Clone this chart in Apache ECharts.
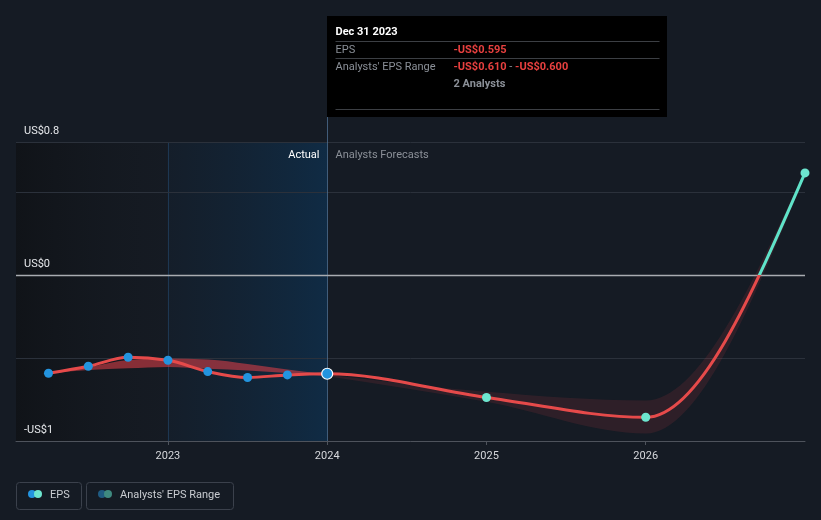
<!DOCTYPE html>
<html><head><meta charset="utf-8">
<script src="https://cdn.jsdelivr.net/npm/echarts@6/dist/echarts.min.js"></script>
<style>html,body{margin:0;padding:0;background:#151b24;}#c{width:821px;height:520px;}</style>
</head><body><div id="c"></div>
<script>
// ---- data (decimal years; EPS in US$) ----
const actualYears = [2022.25, 2022.5, 2022.75, 2023.0, 2023.25, 2023.5, 2023.75, 2024.0];
const actualEps = [-0.592, -0.550, -0.496, -0.514, -0.582, -0.618, -0.602, -0.595];
const forecastYears = [2025.0, 2026.0, 2027.0];
const forecastEps = [-0.738, -0.857, 0.614];
const pastRangeYears = [2022.25, 2022.5, 2022.75, 2023.0, 2023.25, 2023.5, 2023.75, 2024.0];
const pastRangeHigh = [-0.592, -0.556, -0.512, -0.504, -0.509, -0.536, -0.570, -0.600];
const pastRangeLow = [-0.592, -0.572, -0.562, -0.554, -0.565, -0.575, -0.590, -0.610];
const forecastRangeYears = [2024.0, 2025.0, 2026.0, 2027.0];
const forecastRangeHigh = [-0.600, -0.704, -0.756, 0.630];
const forecastRangeLow = [-0.610, -0.764, -0.955, 0.600];
const xTickYears = [2023, 2024, 2025, 2026];
const yLabels = {'0.8': 'US$0.8', '0': 'US$0', '-1': '-US$1'};
const xMin = 2022.046, xMax = 2027, yMin = -1, yMax = 0.8;
const highlightStart = 2023, highlightEnd = 2024;

const RED = '#e64a4a', TEAL = '#5fe3c9', BLUE = '#2394df', PTEAL = '#6de6cf';
const FONT = 'Roboto, "Noto Sans", sans-serif';
const FS = 11;

// monotone-x cubic (d3 style) segments on pixel points
function monoSegs(p) {
  const n = p.length, t = new Array(n).fill(0);
  for (let i = 1; i < n - 1; i++) {
    const h0 = p[i][0] - p[i-1][0], h1 = p[i+1][0] - p[i][0];
    const s0 = (p[i][1] - p[i-1][1]) / h0, s1 = (p[i+1][1] - p[i][1]) / h1;
    const q = (s0 * h1 + s1 * h0) / (h0 + h1);
    t[i] = (Math.sign(s0) + Math.sign(s1)) * Math.min(Math.abs(s0), Math.abs(s1), 0.5 * Math.abs(q)) || 0;
  }
  if (n === 2) { t[0] = t[1] = (p[1][1]-p[0][1])/(p[1][0]-p[0][0]); }
  else {
    const h = p[1][0]-p[0][0]; t[0] = (3*(p[1][1]-p[0][1])/h - t[1]) / 2;
    const hn = p[n-1][0]-p[n-2][0]; t[n-1] = (3*(p[n-1][1]-p[n-2][1])/hn - t[n-2]) / 2;
  }
  const segs = [];
  for (let i = 0; i < n - 1; i++) {
    const dx = (p[i+1][0] - p[i][0]) / 3;
    segs.push({a: p[i], c1: [p[i][0]+dx, p[i][1]+dx*t[i]], c2: [p[i+1][0]-dx, p[i+1][1]-dx*t[i+1]], b: p[i+1]});
  }
  return segs;
}
const f2 = v => v.toFixed(2);
function linePath(p) {
  let d = 'M' + f2(p[0][0]) + ' ' + f2(p[0][1]);
  monoSegs(p).forEach(s => { d += 'C' + [s.c1, s.c2, s.b].map(q => f2(q[0]) + ' ' + f2(q[1])).join(' '); });
  return d;
}
function bandPath(up, lo) {
  let d = linePath(up);
  const segs = monoSegs(lo);
  const last = lo[lo.length-1];
  d += 'L' + f2(last[0]) + ' ' + f2(last[1]);
  for (let i = segs.length - 1; i >= 0; i--) {
    const s = segs[i];
    d += 'C' + [s.c2, s.c1, s.a].map(q => f2(q[0]) + ' ' + f2(q[1])).join(' ');
  }
  return d + 'Z';
}

const chart = echarts.init(document.getElementById('c'));
const option = {
  backgroundColor: '#151b24',
  animation: false,
  grid: {left: 16, right: 16, top: 142, bottom: 79},
  xAxis: {
    type: 'value', min: xMin, max: xMax,
    splitLine: {show: false},
    axisLine: {onZero: false, lineStyle: {color: '#4e535c', width: 1}},
    axisTick: {show: true, customValues: xTickYears, length: 4, lineStyle: {color: '#4e535c'}},
    axisLabel: {customValues: xTickYears, formatter: v => String(Math.round(v)), color: '#d6d8dc', fontSize: FS, fontFamily: FONT, margin: 10}
  },
  yAxis: {
    type: 'value', min: yMin, max: yMax, interval: 0.5,
    axisLine: {show: false}, axisTick: {show: false},
    splitLine: {lineStyle: {color: '#2b313b', width: 1}},
    axisLabel: {
      inside: true, margin: 8, verticalAlign: 'bottom', padding: [0, 0, 5, 0],
      color: '#e6e8eb', fontSize: FS, fontFamily: FONT,
      formatter: v => { const k = String(Math.round(v * 10) / 10); return yLabels[k] || ''; }
    }
  },
  series: [
    { // background shading regions
      type: 'custom', silent: true, z: -1, data: [[xMin, 0]],
      renderItem(params, api) {
        const cs = params.coordSys;
        const xa = api.coord([highlightStart, 0])[0], xb = api.coord([highlightEnd, 0])[0];
        return {type: 'group', children: [
          {type: 'rect', shape: {x: cs.x, y: cs.y, width: xa - cs.x, height: cs.height},
           style: {fill: new echarts.graphic.LinearGradient(0, 0, 1, 0, [{offset: 0, color: 'rgba(14,16,19,0.7)'}, {offset: 1, color: 'rgba(22,26,33,0.3)'}])}},
          {type: 'rect', shape: {x: xa, y: cs.y, width: xb - xa, height: cs.height},
           style: {fill: new echarts.graphic.LinearGradient(0, 0, 1, 0, [{offset: 0, color: 'rgba(20,32,46,0.6)'}, {offset: 1, color: 'rgba(15,45,72,0.9)'}])}},
          {type: 'line', shape: {x1: xa + 0.5, y1: cs.y, x2: xa + 0.5, y2: cs.y + cs.height}, style: {stroke: 'rgba(40,80,120,0.55)', lineWidth: 1}}
        ]};
      }
    },
    { // analysts' EPS ranges + zero line
      type: 'custom', name: "Analysts' EPS Range", silent: true, data: [[xMin, 0]],
      renderItem(params, api) {
        const cs = params.coordSys;
        const zy = Math.round(api.coord([xMin, 0])[1]) + 0.5;
        const pu = pastRangeYears.map((x, i) => api.coord([x, pastRangeHigh[i]]));
        const pl = pastRangeYears.map((x, i) => api.coord([x, pastRangeLow[i]]));
        const fu = forecastRangeYears.map((x, i) => api.coord([x, forecastRangeHigh[i]]));
        const fl = forecastRangeYears.map((x, i) => api.coord([x, forecastRangeLow[i]]));
        return {type: 'group', children: [
          {type: 'line', shape: {x1: cs.x, y1: zy, x2: cs.x + cs.width, y2: zy}, style: {stroke: '#a9acb1', lineWidth: 1.6}},
          {type: 'path', shape: {pathData: bandPath(pu, pl)}, style: {fill: 'rgba(230,64,72,0.55)'}},
          {type: 'path', shape: {pathData: bandPath(fu, fl)}, style: {fill: 'rgba(230,64,72,0.12)'}}
        ]};
      }
    },
    { // EPS line (red below zero, teal above)
      type: 'custom', name: 'EPS line', silent: true, data: [[xMin, 0]],
      renderItem(params, api) {
        const cs = params.coordSys;
        const xs = actualYears.concat(forecastYears), ys = actualEps.concat(forecastEps);
        const pts = xs.map((x, i) => api.coord([x, ys[i]]));
        const zy = api.coord([xMin, 0])[1];
        const f = (zy - cs.y) / cs.height;
        const grad = new echarts.graphic.LinearGradient(0, cs.y, 0, cs.y + cs.height, [
          {offset: 0, color: TEAL}, {offset: f, color: TEAL}, {offset: f, color: RED}, {offset: 1, color: RED}], true);
        return {type: 'path', shape: {pathData: linePath(pts)}, style: {fill: 'none', stroke: grad, lineWidth: 3, lineJoin: 'round', lineCap: 'round'}};
      }
    },
    {
      type: 'scatter', name: 'EPS', symbolSize: 9, clip: true, silent: true,
      itemStyle: {color: BLUE, opacity: 1},
      data: actualYears.map((x, i) => i === actualYears.length - 1
        ? {value: [x, actualEps[i]], symbolSize: 11, itemStyle: {color: BLUE, opacity: 1, borderColor: '#ffffff', borderWidth: 1.2}}
        : [x, actualEps[i]])
    },
    {
      type: 'scatter', name: 'EPS forecast', symbolSize: 9, clip: true, silent: true,
      itemStyle: {color: PTEAL, opacity: 1},
      data: forecastYears.map((x, i) => [x, forecastEps[i]])
    }
  ]
};
chart.setOption(option);

const cx = Math.round(chart.convertToPixel({xAxisIndex: 0}, highlightEnd)) + 0.5;
const bottomY = Math.round(chart.convertToPixel({yAxisIndex: 0}, yMin));
const topPlot = Math.round(chart.convertToPixel({yAxisIndex: 0}, yMax));
const tx = (text, x, y, fill, extra) => ({type: 'text', x, y, silent: true,
  style: Object.assign({text, fill, fontSize: FS, fontFamily: FONT, verticalAlign: 'middle', align: 'left'}, extra || {})});
const hl = (y) => ({type: 'line', silent: true, shape: {x1: cx + 8, y1: y, x2: cx + 332, y2: y}, style: {stroke: '#3c3f44', lineWidth: 1}});

chart.setOption({graphic: [
  {type: 'line', silent: true, shape: {x1: cx, y1: 16, x2: cx, y2: bottomY}, style: {stroke: 'rgba(80,115,150,0.75)', lineWidth: 1}},
  tx('Actual', cx - 8, topPlot + 13, '#ffffff', {align: 'right'}),
  tx('Analysts Forecasts', cx + 8, topPlot + 13, '#8b9098'),
  {type: 'rect', silent: true, shape: {x: cx - 0.5, y: 16, width: 340, height: 101}, style: {fill: '#000000'}},
  tx('Dec 31 2023', cx + 8, 32, '#ffffff', {fontWeight: 'bold'}),
  hl(41.5), hl(58.5), hl(109.5),
  tx('EPS', cx + 8, 50, '#8b9098'),
  tx('-US$0.595', cx + 126, 50, '#e8403f', {fontWeight: 'bold'}),
  tx("Analysts' EPS Range", cx + 8, 67, '#8b9098'),
  {type: 'text', x: cx + 126, y: 67, silent: true, style: {
    text: '{r|-US$0.610}{g| - }{r|-US$0.600}', verticalAlign: 'middle', fontSize: FS, fontFamily: FONT,
    rich: {r: {fill: '#e8403f', fontWeight: 'bold', fontSize: FS, fontFamily: FONT}, g: {fill: '#8b9098', fontSize: FS, fontFamily: FONT}}}},
  tx('2 Analysts', cx + 126, 84, '#8b9098', {fontWeight: 'bold'}),
  // legend
  {type: 'rect', silent: true, shape: {x: 16.5, y: 482.5, width: 65, height: 27, r: 3}, style: {fill: 'none', stroke: '#3b414c', lineWidth: 1}},
  {type: 'circle', silent: true, shape: {cx: 32, cy: 494, r: 4}, style: {fill: BLUE}},
  {type: 'circle', silent: true, shape: {cx: 38, cy: 494, r: 4}, style: {fill: PTEAL}},
  tx('EPS', 50, 495, '#c9ccd1'),
  {type: 'rect', silent: true, shape: {x: 86.5, y: 482.5, width: 147, height: 27, r: 3}, style: {fill: 'none', stroke: '#3b414c', lineWidth: 1}},
  {type: 'circle', silent: true, shape: {cx: 102, cy: 494, r: 4}, style: {fill: '#1f5b82'}},
  {type: 'circle', silent: true, shape: {cx: 108, cy: 494, r: 4}, style: {fill: '#3f8a80'}},
  tx("Analysts' EPS Range", 120, 495, '#c9ccd1')
]});
</script></body></html>
